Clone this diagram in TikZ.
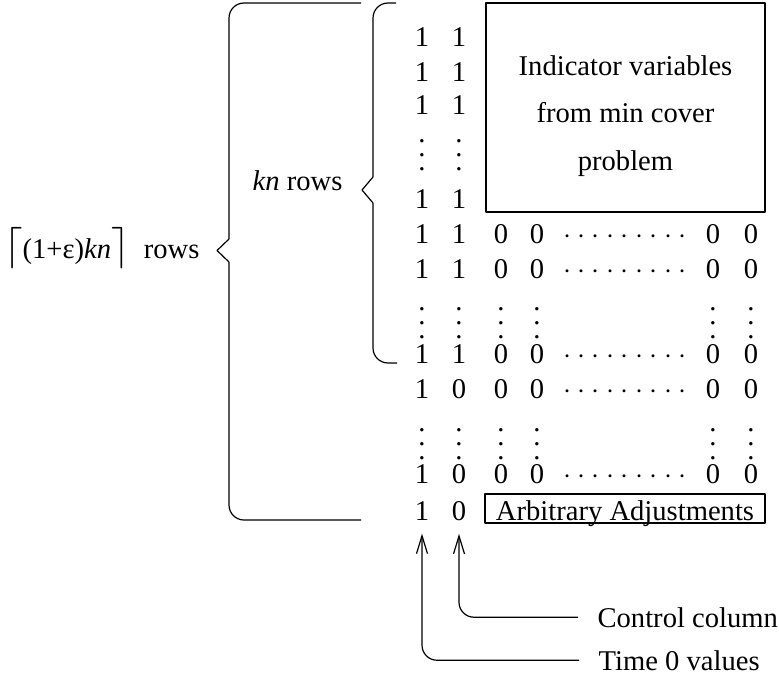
\documentclass[tikz,border=0pt]{standalone}
\usepackage{fontspec}
\setmainfont{Liberation Serif}
\usetikzlibrary{arrows.meta}

\newcommand{\vdts}{\vbox{\baselineskip=7pt\lineskiplimit=0pt\hbox{.}\hbox{.}\hbox{.}}}
\newcommand{\hdts}{\hbox to 65.25pt{\xleaders\hbox to 7.25pt{\hss$\cdot$\hss}\hfill}}
\newcommand{\bigfnt}{\fontsize{20.74}{20.74}\selectfont}

\begin{document}
\begin{tikzpicture}[x=0.5pt,y=-0.5pt,>={Straight Barb[length=9pt,width=5.5pt]},line join=bevel,line width=0.6pt,
  font=\fontsize{14.3}{17}\selectfont,
  cell/.style={inner sep=0pt,anchor=base},
  lbl/.style={inner sep=0pt}]
\useasboundingbox (0,0) rectangle (779,684);
%%
  \foreach \r/\y/\b in {1/47/1,2/82/1,3/115/1,4/208/1,5/243/1,6/278/1,7/363/1,8/398/0,9/483/0,10/520/0}{
    \node (node_\r_1) at (422,\y) [cell] {1};
    \node (node_\r_2) at (459,\y) [cell] {\b};
  }
  \foreach \r/\y in {5/243,6/278,7/363,8/398,9/483}{
    \node (node_\r_3) at (501,\y) [cell] {0};
    \node (node_\r_4) at (537,\y) [cell] {0};
    \node (node_\r_d) at (625,\y) [cell] {\hdts};
    \node (node_\r_5) at (713,\y) [cell] {0};
    \node (node_\r_6) at (751,\y) [cell] {0};
  }

  \foreach \c/\x in {1/422,2/459}
    \node (vdots_a_\c) at (\x,170) [cell] {\vdts};
  \foreach \c/\x in {1/422,2/459,3/501,4/537,5/713,6/751}{
    \node (vdots_b_\c) at (\x,338) [cell] {\vdts};
    \node (vdots_c_\c) at (\x,459) [cell] {\vdts};
  }

  \node (box_ind) at (625.5,107.5) [draw,minimum width=139.5pt,minimum height=104.5pt] {};
  \node (text_ind) at (625.5,116) [align=center,font=\fontsize{14.3}{23.75}\selectfont] {Indicator variables\\from min cover\\problem};

  \node (box_arb) at (625,520) [draw,cell,minimum width=140pt,text height=13pt,text depth=1.5pt] {Arbitrary Adjustments};

  \node (label_kn) at (343,191) [lbl,anchor=base east] {\textit{kn} rows};
  \node (label_all) at (200,258) [lbl,anchor=base east] {{\bigfnt$\lceil$}(1+ε)\textit{kn}{\bigfnt$\rceil$}\ \ rows};

  \node (label_ctl) at (597,627) [lbl,anchor=base west] {Control column};
  \node (label_time) at (598,670) [lbl,anchor=base west] {Time 0 values};

  % braces
  \draw [rounded corners=7.5pt] (361,3) -| (229,239);
  \draw (229,239) -- (217,250.5) -- (229,262);
  \draw [rounded corners=7.5pt] (229,262) |- (361,520);

  \draw [rounded corners=7.5pt] (396,3) -| (373,177);
  \draw (373,177) -- (362,190) -- (373,203);
  \draw [rounded corners=7.5pt] (373,203) |- (397,363);

  \draw [->,rounded corners=7.5pt,shorten >=6.5pt] ([xshift=-9.5pt]label_ctl.west) -| (node_10_2.south);
  \draw [->,rounded corners=7.5pt,shorten >=6.5pt] ([xshift=-9.5pt]label_time.west) -| (node_10_1.south);
%
\end{tikzpicture}
\end{document}
